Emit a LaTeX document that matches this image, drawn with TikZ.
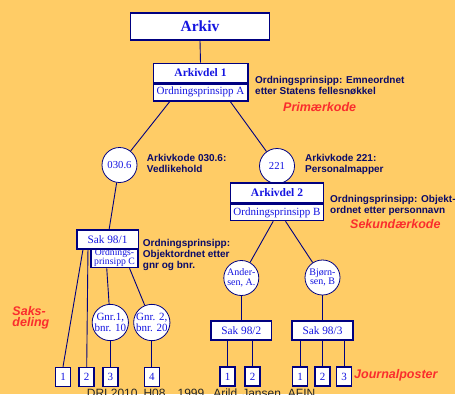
\documentclass[tikz,border=0pt]{standalone}
\usepackage{fontspec}
\setmainfont{Liberation Serif}
\newfontfamily\arialfont{Liberation Sans}
\usetikzlibrary{calc}
\definecolor{bgorange}{RGB}{255,204,102}
\definecolor{navy}{RGB}{0,0,128}
\definecolor{boxblue}{RGB}{20,20,225}
\definecolor{notenavy}{RGB}{10,10,105}
\definecolor{hotred}{RGB}{250,45,45}
\begin{document}
\begin{tikzpicture}[x=1pt,y=-1pt,
  box/.style={draw=navy,line width=1.5pt,fill=white,text=boxblue,inner sep=0pt},
  circ/.style={circle,draw=navy,line width=0.8pt,fill=white,text=boxblue,minimum size=35pt,inner sep=0pt,align=center,font=\fontsize{10.7}{10.5}\selectfont},
  leaf/.style={box,minimum width=15pt,minimum height=19pt,font=\fontsize{11}{12}\selectfont},
  note/.style={anchor=west,align=left,inner sep=0pt,text=notenavy,font=\arialfont\bfseries\fontsize{10}{11}\selectfont},
  keyword/.style={anchor=west,align=left,inner sep=0pt,text=hotred,font=\arialfont\bfseries\itshape\fontsize{12.5}{11}\selectfont},
  link/.style={draw=navy,line width=0.9pt}]
\useasboundingbox (0,0) rectangle (455,394);
\clip (0,0) rectangle (455,394);
\fill[bgorange] (0,0) rectangle (455,394);

% top levels
\node[box,minimum width=139pt,minimum height=27pt,font=\bfseries\fontsize{15.5}{16}\selectfont] (arkiv) at (200,26.5) {Arkiv};
\node[box,minimum width=94.5pt,minimum height=19pt,font=\bfseries\fontsize{11.5}{12}\selectfont] (arkdel1) at (200.5,72.8) {Arkivdel 1};
\node[box,anchor=north,minimum width=94.5pt,minimum height=17pt,font=\fontsize{11}{12}\selectfont] (arkdel1pr) at (arkdel1.south) {Ordningsprinsipp A};
\node[note] (noteA) at (255,85.5) {Ordningsprinsipp: Emneordnet\\etter Statens fellesnøkkel};
\node[keyword] (primkode) at (283,106.7) {Primærkode};

\node[circ] (c0306) at (119.5,165) {030.6};
\node[circ] (c221) at (277,166) {221};
\node[note] (note0306) at (146.7,163.3) {Arkivkode 030.6:\\Vedlikehold};
\node[note] (note221) at (305,164) {Arkivkode 221:\\Personalmapper};

\node[box,minimum width=93pt,minimum height=20pt,font=\bfseries\fontsize{11.5}{12}\selectfont] (arkdel2) at (277,193) {Arkivdel 2};
\node[box,anchor=north,minimum width=93pt,minimum height=16pt,font=\fontsize{11}{12}\selectfont] (arkdel2pr) at (arkdel2.south) {Ordningsprinsipp B};
\node[note] (noteB) at (330,205.5) {Ordningsprinsipp: Objekt-\\ordnet etter personnavn};
\node[keyword] (sekkode) at (350,224.5) {Sekundærkode};

% left branch
\node[box,minimum width=47pt,minimum height=19pt,align=center,font=\fontsize{9.7}{9.3}\selectfont] (ordnC) at (114.5,258) {Ordnings-\\prinsipp C};
\node[box,minimum width=61.5pt,minimum height=19pt,font=\fontsize{11.3}{12}\selectfont] (sak981) at (107.5,239.5) {Sak 98/1};
\node[note] (noteC) at (142.7,255.3) {Ordningsprinsipp:\\Objektordnet etter\\gnr og bnr.};
\node[circ,font=\fontsize{11}{10.6}\selectfont] (gnr1) at (110.3,322.5) {Gnr.1,\\bnr. 10};
\node[circ,font=\fontsize{11}{10.6}\selectfont] (gnr2) at (151.8,322.5) {Gnr. 2,\\bnr. 20};
\node[keyword] (saksdeling) at (12.3,317.5) {Saks-\\deling};

\node[leaf] (l1) at (63,377) {1};
\node[leaf] (l2) at (86.7,377) {2};
\node[leaf] (l3) at (110.3,377) {3};
\node[leaf] (l4) at (151.8,377) {4};

% right branch
\node[circ,font=\fontsize{10}{9.8}\selectfont] (andersen) at (241.3,278) {Ander-\\sen, A.};
\node[circ,font=\fontsize{10}{9.8}\selectfont] (bjornsen) at (322.5,277.5) {Bjørn-\\sen, B};
\node[box,minimum width=60.7pt,minimum height=19pt,font=\fontsize{11.3}{12}\selectfont] (sak982) at (241.3,330.5) {Sak 98/2};
\node[box,minimum width=60.7pt,minimum height=19pt,font=\fontsize{11.3}{12}\selectfont] (sak983) at (322.5,330.5) {Sak 98/3};

\node[leaf] (m1) at (227.5,376.7) {1};
\node[leaf] (m2) at (252.5,376.7) {2};
\node[leaf] (n1) at (300,376.7) {1};
\node[leaf] (n2) at (322.5,376.7) {2};
\node[leaf] (n3) at (344,376.7) {3};
\node[keyword] (journal) at (354,375.7) {Journalposter};

\node[anchor=north west,inner sep=0pt,text=black!85,font=\arialfont\fontsize{12}{13}\selectfont] (footer) at (86.7,388.6)
  {DRI 2010\hspace{6pt}H08\hspace{12pt}1999\hspace{9pt}Arild\hspace{5pt}Jansen\hspace{7pt}AFIN};

% connectors
\draw[link] (arkiv.south) -- (arkdel1.north);
\draw[link] ($(arkdel1pr.south west)!0.18!(arkdel1pr.south east)$) -- (c0306);
\draw[link] ($(arkdel1pr.south west)!0.81!(arkdel1pr.south east)$) -- (c221);
\draw[link] (c221) -- (arkdel2);
\draw[link] (c0306) -- (sak981);
\draw[link] ($(sak981.south west)!0.11!(sak981.south east)$) -- (l1.north);
\draw[link] ($(sak981.south west)!0.19!(sak981.south east)$) -- (l2.north);
\draw[link] ($(ordnC.south west)!0.34!(ordnC.south east)$) -- (gnr1);
\draw[link] ($(ordnC.south west)!0.81!(ordnC.south east)$) -- (gnr2);
\draw[link] (gnr1) -- (l3);
\draw[link] (gnr2) -- (l4);
\draw[link] ($(arkdel2pr.south west)!0.46!(arkdel2pr.south east)$) -- (andersen);
\draw[link] ($(arkdel2pr.south west)!0.59!(arkdel2pr.south east)$) -- (bjornsen);
\draw[link] (andersen) -- (sak982);
\draw[link] (bjornsen) -- (sak983);
\draw[link] (m1 |- sak982.south) -- (m1.north);
\draw[link] (m2 |- sak982.south) -- (m2.north);
\draw[link] (n1 |- sak983.south) -- (n1.north);
\draw[link] (n2 |- sak983.south) -- (n2.north);
\draw[link] (n3 |- sak983.south) -- (n3.north);
\end{tikzpicture}
\end{document}
